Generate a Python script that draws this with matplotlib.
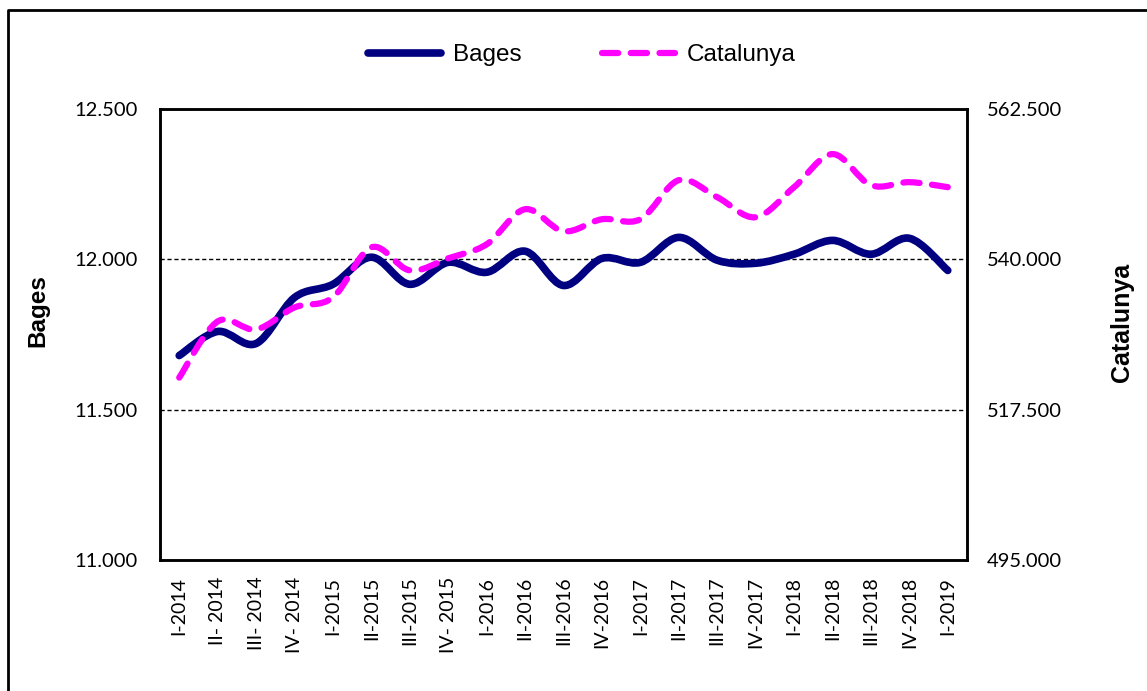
"""
Evolució trimestral: Bages vs Catalunya (dos eixos)
"""

import matplotlib
matplotlib.use("Agg")
import matplotlib.pyplot as plt
import numpy as np
from matplotlib.path import Path
from matplotlib.patches import PathPatch
from matplotlib.lines import Line2D
from matplotlib.ticker import FuncFormatter

trimestres = ["I-2014", "II- 2014", "III- 2014", "IV- 2014", "I-2015", "II-2015",
              "III-2015", "IV- 2015", "I-2016", "II-2016", "III-2016", "IV-2016",
              "I-2017", "II-2017", "III-2017", "IV-2017", "I-2018", "II-2018",
              "III-2018", "IV-2018", "I-2019"]

bages = [11680, 11760, 11720, 11873, 11917, 12007, 11917, 11990, 11957, 12027,
         11913, 12003, 11990, 12073, 11997, 11987, 12017, 12063, 12017, 12070, 11963]

catalunya = [522300, 530700, 529500, 532800, 534300, 541800, 538350, 540150,
             542250, 547500, 544200, 546000, 546000, 551850, 549300, 546300,
             550800, 555750, 551100, 551550, 550800]

NAVY = "#000080"
MAGENTA = "#FF00FF"
TICK_FONT = "Lato"


def smooth_path(x, y):
    """Corba suavitzada (com la línia suavitzada d'Excel) amb Bèzier cúbiques"""
    x = np.asarray(x, float)
    y = np.asarray(y, float)
    pts = np.column_stack([x, y])
    n = len(pts)
    verts = [pts[0]]
    codes = [Path.MOVETO]
    for i in range(n - 1):
        p0 = pts[i - 1] if i > 0 else pts[i]
        p1 = pts[i]
        p2 = pts[i + 1]
        p3 = pts[i + 2] if i + 2 < n else pts[i + 1]
        c1 = p1 + (p2 - p0) / 6.0
        c2 = p2 - (p3 - p1) / 6.0
        verts += [c1, c2, p2]
        codes += [Path.CURVE4] * 3
    return Path(verts, codes)


def fmt_miles(v, pos):
    return f"{v:,.0f}".replace(",", ".")


fig = plt.figure(figsize=(11.47, 6.91), dpi=100)
ax = fig.add_axes([160 / 1147, 1 - 560 / 691, (967 - 160) / 1147, (560 - 109) / 691])
ax2 = ax.twinx()

x = np.arange(len(trimestres))

# Bages (eix esquerre)
ax.add_patch(PathPatch(smooth_path(x, bages), fill=False, edgecolor=NAVY,
                       linewidth=5.5, capstyle="round", joinstyle="round", zorder=3))
# Catalunya (eix dret)
ax2.add_patch(PathPatch(smooth_path(x, catalunya), fill=False, edgecolor=MAGENTA,
                        linewidth=4.5, linestyle=(0, (2.6, 2.0)), capstyle="round",
                        joinstyle="round", zorder=3))

ax.set_xlim(-0.5, len(trimestres) - 0.5)
ax.set_ylim(11000, 12500)
ax2.set_ylim(495000, 562500)
ax.set_yticks([11000, 11500, 12000, 12500])
ax2.set_yticks([495000, 517500, 540000, 562500])
ax.yaxis.set_major_formatter(FuncFormatter(fmt_miles))
ax2.yaxis.set_major_formatter(FuncFormatter(fmt_miles))

ax.set_xticks(x)
ax.set_xticklabels(trimestres, rotation=90, family=TICK_FONT, fontsize=14)
for lab in ax.get_yticklabels():
    lab.set_family(TICK_FONT)
    lab.set_fontsize(14.5)
for lab in ax2.get_yticklabels():
    lab.set_family(TICK_FONT)
    lab.set_fontsize(14.5)

ax.tick_params(axis="x", length=0, pad=12)
ax.tick_params(axis="y", length=0, pad=16)
ax2.tick_params(axis="y", length=0, pad=14)

ax.grid(axis="y", color="black", linestyle=(0, (3, 2)), linewidth=1.0)
ax.set_axisbelow(True)
for sp in list(ax.spines.values()) + list(ax2.spines.values()):
    sp.set_linewidth(1.8)
    sp.set_color("black")

# Títols dels eixos
fig.text(38 / 1147, 1 - 311 / 691, "Bages", rotation=90, ha="center", va="center",
         family="Liberation Sans", fontweight="bold", fontsize=17.5)
fig.text(1122 / 1147, 1 - 322 / 691, "Catalunya", rotation=90, ha="center", va="center",
         family="Liberation Sans", fontweight="bold", fontsize=18)

# Llegenda
handles = [Line2D([], [], color=NAVY, linewidth=5.5, solid_capstyle="round"),
           Line2D([], [], color=MAGENTA, linewidth=4.5, linestyle=(0, (2.6, 2.0)),
                  dash_capstyle="round")]
fig.legend(handles, ["Bages", "Catalunya"], loc="center", bbox_to_anchor=(582 / 1147, 1 - 55 / 691),
           ncol=2, frameon=False, handlelength=3.0, columnspacing=3.3, handletextpad=0.5,
           prop={"family": "Liberation Sans", "size": 17.5})

# Marc exterior (només superior i esquerre visibles)
fig.add_artist(Line2D([8 / 1147, 8 / 1147, 1.0], [0.0, 1 - 10 / 691, 1 - 10 / 691],
                      transform=fig.transFigure, color="black", linewidth=2.0))

plt.savefig("out.png", dpi=100)
